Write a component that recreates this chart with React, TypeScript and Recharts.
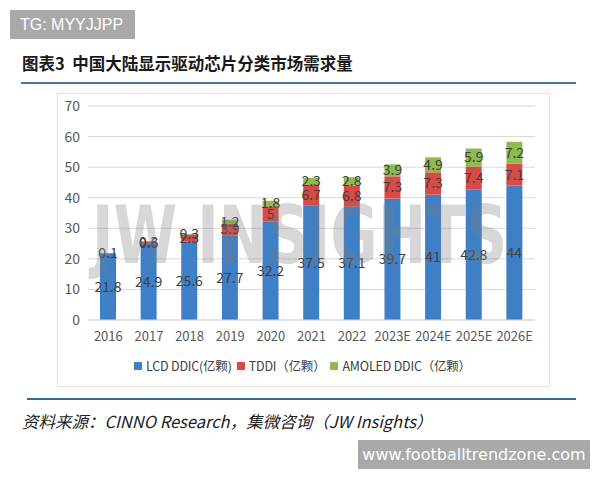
import React from "react";
import { BarChart, Bar, XAxis, YAxis, CartesianGrid, LabelList } from "recharts";

const years = ["2016", "2017", "2018", "2019", "2020", "2021", "2022", "2023E", "2024E", "2025E", "2026E"];
const lcdDdic = [21.8, 24.9, 25.6, 27.7, 32.2, 37.5, 37.1, 39.7, 41, 42.8, 44];
const tddi = [0, 0.6, 2.3, 3.9, 5, 6.7, 6.8, 7.3, 7.3, 7.4, 7.1];
const amoledDdic = [0.1, 0.3, 0.3, 1.2, 1.8, 2.3, 2.8, 3.9, 4.9, 5.9, 7.2];
const yTicks = [0, 10, 20, 30, 40, 50, 60, 70];

const seriesNames = ["LCD DDIC(亿颗)", "TDDI（亿颗）", "AMOLED DDIC（亿颗）"];
const colors = ["#3f7fc6", "#d84a45", "#8fbb4e"];

const data = years.map((y, i) => ({
  year: y,
  lcd: lcdDdic[i],
  tddi: tddi[i],
  amoled: amoledDdic[i],
}));

const font = '"Noto Sans CJK SC", "Noto Sans", sans-serif';
const labelFmt = (v: any) => (v === 0 || v == null ? "" : v);

export default function App() {
  return (
    <div
      style={{
        position: "absolute",
        left: 0,
        top: 0,
        width: 600,
        height: 480,
        background: "#fff",
        fontFamily: font,
        overflow: "hidden",
      }}
    >
      {/* channel tag */}
      <div
        style={{
          position: "absolute",
          left: 10,
          top: 10,
          width: 125,
          height: 29,
          background: "#a9a9a9",
          color: "#fff",
          fontSize: 16,
          lineHeight: "29px",
          paddingLeft: 10,
          boxSizing: "border-box",
          fontFamily: '"Liberation Sans", Arial, sans-serif',
        }}
      >
        TG: MYYJJPP
      </div>

      {/* title */}
      <div
        style={{
          position: "absolute",
          left: 22,
          top: 52,
          fontSize: 16.5,
          fontWeight: 700,
          color: "#1a1a1a",
          lineHeight: "22px",
          whiteSpace: "pre",
        }}
      >
        图表3  中国大陆显示驱动芯片分类市场需求量
      </div>
      <div style={{ position: "absolute", left: 21, top: 82, width: 555, height: 2, background: "#4a73a6" }} />

      {/* chart frame */}
      <div
        style={{
          position: "absolute",
          left: 57,
          top: 93,
          width: 493,
          height: 294,
          border: "1px solid #e3e3e3",
          boxSizing: "border-box",
          boxShadow: "0 0 2px rgba(0,0,0,0.06)",
        }}
      />

      <div style={{ position: "absolute", left: 57, top: 93 }}>
        <BarChart
          width={493}
          height={294}
          data={data}
          margin={{ top: 13, right: 15, left: 0, bottom: 37 }}
          barSize={16}
        >
          <CartesianGrid vertical={false} stroke="#d9d9d9" />
          <YAxis
            width={31}
            domain={[0, 70]}
            ticks={yTicks}
            axisLine={false}
            tickLine={false}
            tick={{ fill: "#595959", fontSize: 14, fontFamily: font }}
          />
          <XAxis
            dataKey="year"
            height={30}
            axisLine={{ stroke: "#d9d9d9" }}
            tickLine={false}
            tickMargin={6}
            interval={0}
            tick={{ fill: "#595959", fontSize: 13, fontFamily: font }}
          />
          <Bar dataKey="lcd" stackId="s" fill={colors[0]} isAnimationActive={false}>
            <LabelList dataKey="lcd" position="center" fill="#404040" fontSize={14} fontFamily={font} formatter={labelFmt} />
          </Bar>
          <Bar dataKey="tddi" stackId="s" fill={colors[1]} isAnimationActive={false}>
            <LabelList dataKey="tddi" position="center" fill="#404040" fontSize={14} fontFamily={font} formatter={labelFmt} />
          </Bar>
          <Bar dataKey="amoled" stackId="s" fill={colors[2]} isAnimationActive={false}>
            <LabelList dataKey="amoled" position="center" fill="#404040" fontSize={14} fontFamily={font} formatter={labelFmt} />
          </Bar>
        </BarChart>
      </div>

      {/* brand watermark across the plot */}
      <svg
        width={600}
        height={480}
        style={{ position: "absolute", left: 0, top: 0, pointerEvents: "none" }}
      >
        <text
          x={92}
          y={263}
          fontSize={80}
          fontWeight={700}
          fontFamily='"DejaVu Sans", sans-serif'
          textLength={415}
          lengthAdjust="spacingAndGlyphs"
          fill="#7a7a7a"
          fillOpacity={0.3}
        >
          JW INSIGHTS
        </text>
      </svg>

      {/* legend */}
      <div
        style={{
          position: "absolute",
          left: 134,
          top: 357,
          display: "flex",
          alignItems: "center",
          fontSize: 12.5,
          color: "#404040",
          lineHeight: "18px",
          whiteSpace: "nowrap",
          letterSpacing: -0.2,
        }}
      >
        {seriesNames.map((n, i) => (
          <span key={n} style={{ display: "flex", alignItems: "center", marginRight: 5 }}>
            <span style={{ width: 8, height: 8, background: colors[i], display: "inline-block", marginRight: 4 }} />
            {n}
          </span>
        ))}
      </div>

      <div style={{ position: "absolute", left: 27, top: 398, width: 549, height: 2, background: "#2f6b9c" }} />

      {/* source */}
      <div
        style={{
          position: "absolute",
          left: 22,
          top: 409,
          fontSize: 16.5,
          fontStyle: "italic",
          color: "#222",
          lineHeight: "24px",
          whiteSpace: "nowrap",
        }}
      >
        资料来源：CINNO Research，集微咨询（JW Insights）
      </div>

      {/* site tag */}
      <div
        style={{
          position: "absolute",
          left: 358,
          top: 440,
          width: 232,
          height: 29,
          background: "#a9a9a9",
          color: "#fff",
          fontSize: 16,
          lineHeight: "29px",
          textAlign: "center",
          fontFamily: '"DejaVu Sans", sans-serif',
        }}
      >
        www.footballtrendzone.com
      </div>
    </div>
  );
}
